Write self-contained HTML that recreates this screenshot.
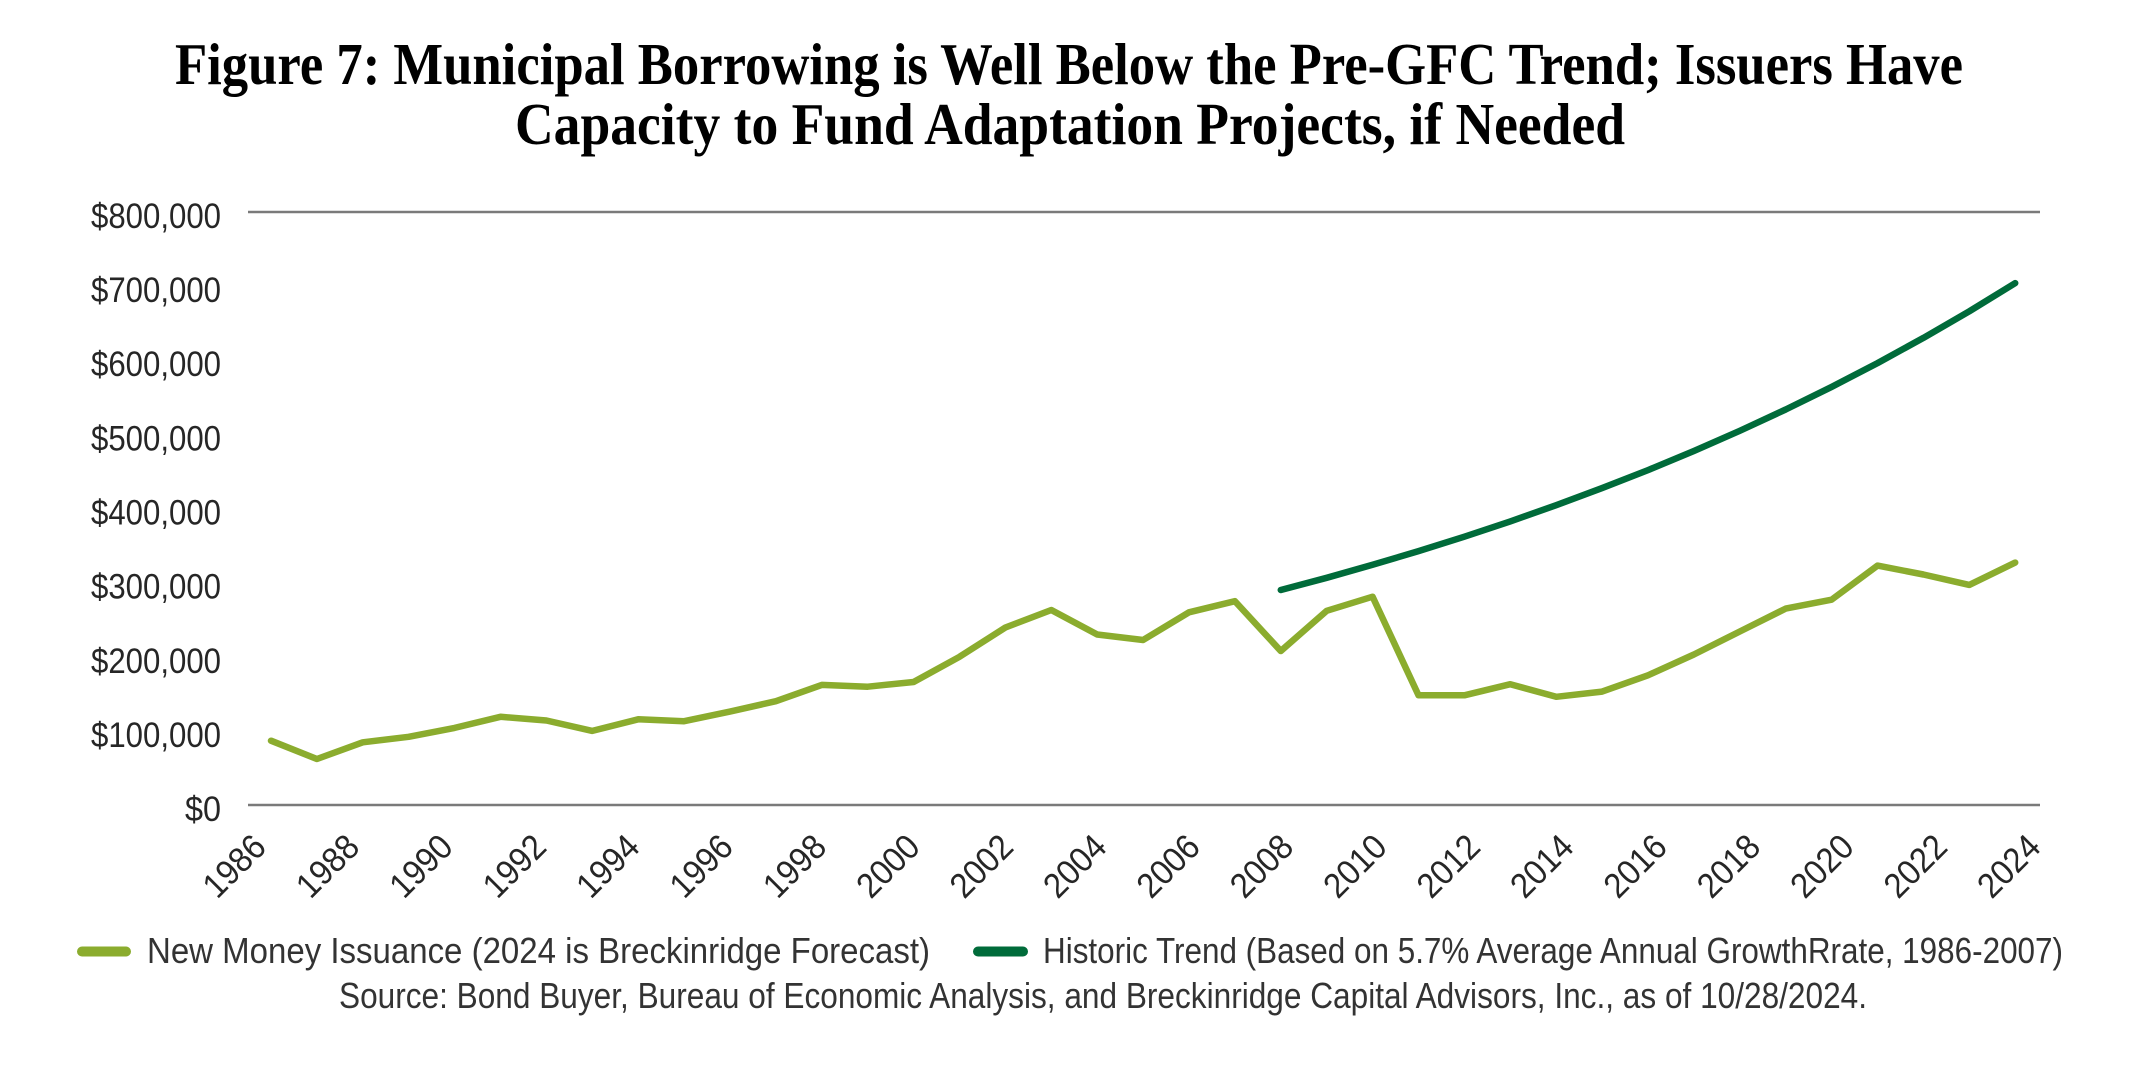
<!DOCTYPE html>
<html>
<head>
<meta charset="utf-8">
<style>
html,body{margin:0;padding:0;background:#fff;}
svg{display:block;}
</style>
</head>
<body>
<svg width="2134" height="1067" viewBox="0 0 2134 1067" xmlns="http://www.w3.org/2000/svg">
<rect width="2134" height="1067" fill="#fff"/>
<!-- Title -->
<g font-family="'Liberation Serif', serif" font-weight="bold" font-size="59" fill="#000">
<text x="175" y="84" textLength="1788" lengthAdjust="spacingAndGlyphs">Figure 7: Municipal Borrowing is Well Below the Pre-GFC Trend; Issuers Have</text>
<text x="515" y="144" textLength="1110" lengthAdjust="spacingAndGlyphs">Capacity to Fund Adaptation Projects, if Needed</text>
</g>
<!-- Gridlines -->
<line x1="248" y1="212" x2="2040" y2="212" stroke="#7a7a7a" stroke-width="2.5"/>
<line x1="248" y1="805" x2="2040" y2="805" stroke="#7a7a7a" stroke-width="2.5"/>
<!-- Y labels -->
<g font-family="'Liberation Sans', sans-serif" font-size="35" fill="#262626" text-anchor="end">
<text x="221" y="228" textLength="130" lengthAdjust="spacingAndGlyphs">$800,000</text>
<text x="221" y="302.1" textLength="130" lengthAdjust="spacingAndGlyphs">$700,000</text>
<text x="221" y="376.2" textLength="130" lengthAdjust="spacingAndGlyphs">$600,000</text>
<text x="221" y="450.4" textLength="130" lengthAdjust="spacingAndGlyphs">$500,000</text>
<text x="221" y="524.5" textLength="130" lengthAdjust="spacingAndGlyphs">$400,000</text>
<text x="221" y="598.6" textLength="130" lengthAdjust="spacingAndGlyphs">$300,000</text>
<text x="221" y="672.8" textLength="130" lengthAdjust="spacingAndGlyphs">$200,000</text>
<text x="221" y="746.9" textLength="130" lengthAdjust="spacingAndGlyphs">$100,000</text>
<text x="221" y="821" textLength="36" lengthAdjust="spacingAndGlyphs">$0</text>
</g>
<!-- X labels -->
<g font-family="'Liberation Sans', sans-serif" font-size="35" fill="#262626" text-anchor="end">
<text transform="translate(268,849) rotate(-45)" textLength="72" lengthAdjust="spacingAndGlyphs">1986</text>
<text transform="translate(361.4,849) rotate(-45)" textLength="72" lengthAdjust="spacingAndGlyphs">1988</text>
<text transform="translate(454.8,849) rotate(-45)" textLength="72" lengthAdjust="spacingAndGlyphs">1990</text>
<text transform="translate(548.2,849) rotate(-45)" textLength="72" lengthAdjust="spacingAndGlyphs">1992</text>
<text transform="translate(641.6,849) rotate(-45)" textLength="72" lengthAdjust="spacingAndGlyphs">1994</text>
<text transform="translate(735,849) rotate(-45)" textLength="72" lengthAdjust="spacingAndGlyphs">1996</text>
<text transform="translate(828.4,849) rotate(-45)" textLength="72" lengthAdjust="spacingAndGlyphs">1998</text>
<text transform="translate(921.8,849) rotate(-45)" textLength="72" lengthAdjust="spacingAndGlyphs">2000</text>
<text transform="translate(1015.2,849) rotate(-45)" textLength="72" lengthAdjust="spacingAndGlyphs">2002</text>
<text transform="translate(1108.6,849) rotate(-45)" textLength="72" lengthAdjust="spacingAndGlyphs">2004</text>
<text transform="translate(1202,849) rotate(-45)" textLength="72" lengthAdjust="spacingAndGlyphs">2006</text>
<text transform="translate(1295.4,849) rotate(-45)" textLength="72" lengthAdjust="spacingAndGlyphs">2008</text>
<text transform="translate(1388.8,849) rotate(-45)" textLength="72" lengthAdjust="spacingAndGlyphs">2010</text>
<text transform="translate(1482.2,849) rotate(-45)" textLength="72" lengthAdjust="spacingAndGlyphs">2012</text>
<text transform="translate(1575.6,849) rotate(-45)" textLength="72" lengthAdjust="spacingAndGlyphs">2014</text>
<text transform="translate(1669,849) rotate(-45)" textLength="72" lengthAdjust="spacingAndGlyphs">2016</text>
<text transform="translate(1762.4,849) rotate(-45)" textLength="72" lengthAdjust="spacingAndGlyphs">2018</text>
<text transform="translate(1855.8,849) rotate(-45)" textLength="72" lengthAdjust="spacingAndGlyphs">2020</text>
<text transform="translate(1949.2,849) rotate(-45)" textLength="72" lengthAdjust="spacingAndGlyphs">2022</text>
<text transform="translate(2042.6,849) rotate(-45)" textLength="72" lengthAdjust="spacingAndGlyphs">2024</text>
</g>
<!-- New Money series -->
<polyline fill="none" stroke="#8BAC2E" stroke-width="6.5" stroke-linejoin="round" stroke-linecap="round"
points="271,740.7 316.9,759.0 362.8,742.3 408.7,736.8 454.6,727.9 500.5,716.8 546.4,720.5 592.3,730.9 638.2,719.3 684.1,721.2 730,711.6 775.9,701.2 821.8,684.9 867.7,686.7 913.6,682 959.5,656.8 1005.4,627.5 1051.3,610 1097.2,634.5 1143.1,640 1189,612.3 1234.9,601.2 1280.8,651 1326.7,610.8 1372.6,596.7 1418.5,695.3 1464.4,695.3 1510.3,684.2 1556.2,696.8 1602.1,691.6 1648,675.3 1693.9,654.5 1739.8,631.5 1785.7,608.6 1831.6,599.7 1877.5,565.6 1923.4,574.5 1969.3,584.9 2015.2,562.6"/>
<!-- Historic trend -->
<polyline fill="none" stroke="#006B3A" stroke-width="6.5" stroke-linejoin="round" stroke-linecap="round"
points="1280.8,590 1326.7,577.8 1372.6,564.8 1418.5,551.1 1464.4,536.7 1510.3,521.4 1556.2,505.2 1602.1,488.1 1648,470.1 1693.9,451 1739.8,430.8 1785.7,409.5 1831.6,386.9 1877.5,363.1 1923.4,337.9 1969.3,311.3 2015.2,283.1"/>
<!-- Legend -->
<line x1="82" y1="951.5" x2="126" y2="951.5" stroke="#8BAC2E" stroke-width="10" stroke-linecap="round"/>
<line x1="978" y1="951.5" x2="1023" y2="951.5" stroke="#006B3A" stroke-width="10" stroke-linecap="round"/>
<g font-family="'Liberation Sans', sans-serif" font-size="36" fill="#333">
<text x="147" y="963" textLength="783" lengthAdjust="spacingAndGlyphs">New Money Issuance (2024 is Breckinridge Forecast)</text>
<text x="1043" y="963" textLength="1020" lengthAdjust="spacingAndGlyphs">Historic Trend (Based on 5.7% Average Annual GrowthRrate, 1986-2007)</text>
<text x="339" y="1008" textLength="1528" lengthAdjust="spacingAndGlyphs">Source: Bond Buyer, Bureau of Economic Analysis, and Breckinridge Capital Advisors, Inc., as of 10/28/2024.</text>
</g>
</svg>
</body>
</html>
